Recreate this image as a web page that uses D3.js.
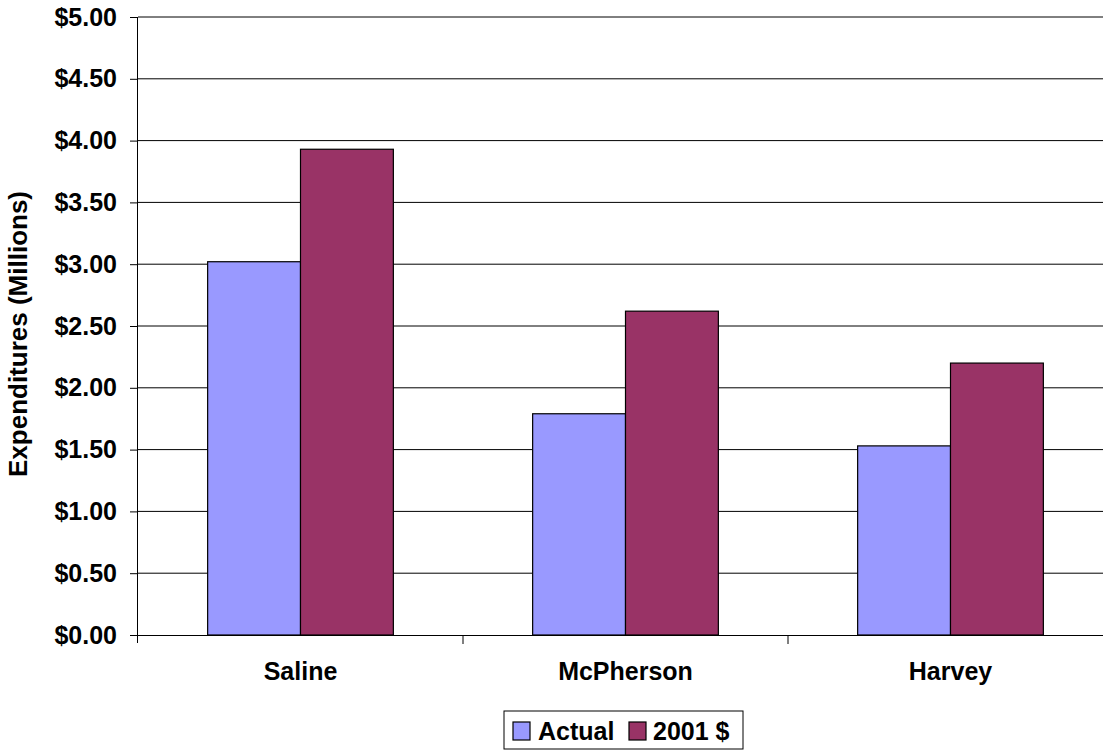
<!DOCTYPE html>
<html>
<head>
<meta charset="utf-8">
<script src="https://cdn.jsdelivr.net/npm/d3@7"></script>
<style>
  html, body { margin: 0; padding: 0; background: #fff; }
  svg { display: block; font-family: "Liberation Sans", Arial, sans-serif; }
</style>
</head>
<body>
<svg id="chart" width="1103" height="750"></svg>
<script>
// Expenditures by county, actual vs. inflation-adjusted (2001 dollars), in millions
const counties = ["Saline", "McPherson", "Harvey"];
const seriesNames = ["Actual", "2001 $"];
const actualValues = [3.02, 1.79, 1.53];
const adjustedValues = [3.93, 2.62, 2.20];
const yTicks = [0, 0.5, 1, 1.5, 2, 2.5, 3, 3.5, 4, 4.5, 5];
const seriesColors = ["#9999ff", "#993366"];

const rows = counties.map((c, i) => ({ county: c, values: [actualValues[i], adjustedValues[i]] }));

const FONT = "'Liberation Sans', Arial, sans-serif";
const svg = d3.select("#chart");
const margin = { left: 138, right: -10, top: 17, bottom: 115 };
const W = 1103, H = 750;
const plotW = W - margin.left - margin.right;
const plotH = H - margin.top - margin.bottom;

const g = svg.append("g").attr("transform", `translate(${margin.left},${margin.top})`);

const x = d3.scaleBand().domain(counties).range([0, plotW]).paddingInner(0).paddingOuter(0);
// two bars per group with a gap of 1.5 bar widths
const barW = x.bandwidth() / 3.5;
const xs = d3.scaleBand().domain(seriesNames).range([0.75 * barW, 2.75 * barW]).padding(0);

const y = d3.scaleLinear().domain([0, 5]).range([plotH, 0]);

// horizontal gridlines
g.append("g")
  .selectAll("line")
  .data(yTicks.filter(t => t > 0))
  .join("line")
  .attr("x1", 0).attr("x2", plotW)
  .attr("y1", d => y(d)).attr("y2", d => y(d))
  .attr("stroke", "#000").attr("stroke-width", 1);

// bars
const groups = g.append("g").selectAll("g")
  .data(rows).join("g")
  .attr("transform", d => `translate(${x(d.county)},0)`);

groups.selectAll("rect")
  .data(d => d.values.map((v, i) => ({ name: seriesNames[i], value: v, i })))
  .join("rect")
  .attr("x", d => xs(d.name))
  .attr("width", xs.bandwidth())
  .attr("y", d => y(d.value))
  .attr("height", d => y(0) - y(d.value))
  .attr("fill", d => seriesColors[d.i])
  .attr("stroke", "#000").attr("stroke-width", 1.2);

// y axis
const yAxis = d3.axisLeft(y).tickValues(yTicks).tickSize(8).tickPadding(13)
  .tickFormat(d => "$" + d3.format(".2f")(d));
const ya = g.append("g").call(yAxis);
ya.select(".domain").attr("stroke", "#000").attr("d", `M-0.5,${plotH + 8}V0`);
ya.selectAll(".tick line").attr("stroke", "#000");
ya.selectAll(".tick text")
  .attr("font-size", 25).attr("font-weight", "bold").attr("fill", "#000")
  .attr("font-family", FONT);

// x axis
const xAxis = d3.axisBottom(x).tickSize(0).tickPadding(27);
const xa = g.append("g").attr("transform", `translate(0,${plotH})`).call(xAxis);
xa.select(".domain").attr("stroke", "#000").attr("d", `M0,0.5H${plotW}`);
xa.selectAll(".tick text")
  .attr("font-size", 25).attr("font-weight", "bold").attr("fill", "#000")
  .attr("font-family", FONT);
// category separator ticks
xa.append("g").selectAll("line")
  .data(counties.slice(1))
  .join("line")
  .attr("x1", d => x(d)).attr("x2", d => x(d))
  .attr("y1", 0).attr("y2", 9)
  .attr("stroke", "#000");

// y axis title
svg.append("text")
  .attr("transform", `translate(27,${margin.top + plotH / 2 + 8}) rotate(-90)`)
  .attr("text-anchor", "middle")
  .attr("font-size", 26).attr("font-weight", "bold")
  .text("Expenditures (Millions)");

// legend
const legend = svg.append("g").attr("transform", "translate(504,711)");
legend.append("rect").attr("x", 0).attr("y", 0).attr("width", 239).attr("height", 38)
  .attr("fill", "#fff").attr("stroke", "#000").attr("stroke-width", 1);
const items = [{ x: 9, tx: 34 }, { x: 125, tx: 149 }];
seriesNames.forEach((n, i) => {
  legend.append("rect").attr("x", items[i].x).attr("y", 11).attr("width", 17).attr("height", 18)
    .attr("fill", seriesColors[i]).attr("stroke", "#000").attr("stroke-width", 1.2);
  legend.append("text").attr("x", items[i].tx).attr("y", 29)
    .attr("font-size", 25).attr("font-weight", "bold").text(n);
});
</script>
</body>
</html>
